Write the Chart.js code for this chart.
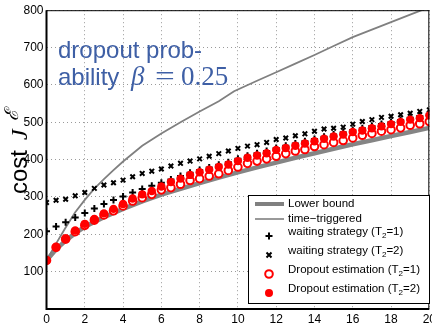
<!DOCTYPE html>
<html>
<head>
<meta charset="utf-8">
<script src="https://cdn.jsdelivr.net/npm/chart.js@4.4.0/dist/chart.umd.min.js"></script>
<style>
  html, body { margin: 0; padding: 0; background: #fff; overflow: hidden; }
  #wrap { width: 432px; height: 329px; overflow: hidden; }
</style>
</head>
<body>
<div id="wrap"><canvas id="chart" width="439" height="329"></canvas></div>
<script>
// data
const steps = [0,0.5,1,1.5,2,2.5,3,3.5,4,4.5,5,5.5,6,6.5,7,7.5,8,8.5,9,9.5,10,
  10.5,11,11.5,12,12.5,13,13.5,14,14.5,15,15.5,16,16.5,17,17.5,18,18.5,19,19.5,20];

const lowerX = [0,0.5,1,1.5,2,3,4,5,6,7,8,9,10,11,12,13,14,15,16,17,18,19,20];
const lowerBound = [130,160,183,203,220,246,268,288,306,322,337,352,366,379,392,405,417,429,441,452,463,474,485];

const timeX = [0,0.5,1,1.5,2,2.5,3,3.5,4,5,6,7,8,9,9.8,11,12,13,14,15,16,17,18,19,20];
const timeTriggered = [130,175,218,259,292,322,348,372,395,437,470,500,529,556,583,611,634,657,680,704,728,748,768,788,808];

const waitT1 = [208,221,232,245,257,269,281,292,301,312,321,330,338,347,356,365,372,379,386,393,402,
  410,417,423,431,437,443,449,455,461,467,473,479,484,490,495,501,506,512,517,523];
const waitT2 = [285,291,294,303,312,323,332,338,345,354,363,369,375,383,390,396,402,409,416,423,430,
  436,440,446,454,458,464,469,476,482,484,487,495,502,507,513,516,520,524,529,533];
const dropT1 = [130,165,187,207,224,238,252,263,276,289,298,307,319,325,334,344,349,356,362,371,380,
  390,396,402,409,416,423,427,435,440,446,451,458,465,470,476,480,485,492,496,502];
const dropT2 = [130,166,189,210,228,241,256,268,281,296,307,316,328,340,349,359,366,373,380,387,396,
  405,411,417,426,431,437,443,449,456,462,467,474,478,484,489,495,501,507,511,518];

const xTicks = [0,2,4,6,8,10,12,14,16,18,20];
const yTicks = [100,200,300,400,500,600,700,800];

const pts = (xv, yv) => xv.map((x, i) => ({ x: x, y: yv[i] }));

const SANS = "'Liberation Sans', Arial, sans-serif";
const SERIF = "'Liberation Serif', 'Times New Roman', serif";
const BLUE = '#3e5fa5';

// box, annotation, y title and legend
const decor = {
  id: 'decor',
  afterDatasetsDraw(chart) {
    const { ctx, chartArea: a } = chart;
    ctx.save();
    ctx.strokeStyle = '#000';
    ctx.lineWidth = 1;
    ctx.beginPath();
    ctx.moveTo(a.left, a.top + 0.5); ctx.lineTo(a.right, a.top + 0.5);
    ctx.moveTo(a.right - 0.5, a.top); ctx.lineTo(a.right - 0.5, a.bottom);
    ctx.stroke();
    ctx.lineWidth = 2;
    ctx.beginPath();
    ctx.moveTo(a.left, a.top); ctx.lineTo(a.left, a.bottom);
    ctx.lineTo(a.right, a.bottom);
    ctx.stroke();

    // annotation
    ctx.fillStyle = BLUE;
    ctx.textBaseline = 'alphabetic';
    ctx.textAlign = 'left';
    ctx.font = '24px ' + SANS;
    ctx.fillText('dropout prob-', 58, 58);
    ctx.fillText('ability', 58, 85);
    ctx.font = 'italic 27px ' + SERIF;
    ctx.fillText('\u03B2', 131, 85);
    ctx.font = '27px ' + SERIF;
    ctx.save();
    ctx.translate(155, 0);
    ctx.scale(1.3, 1);
    ctx.fillText('=', 0, 85);
    ctx.restore();
    ctx.fillText('0.25', 181, 85);

    // y title
    ctx.fillStyle = '#000';
    ctx.save();
    ctx.translate(27, 194);
    ctx.rotate(-Math.PI / 2);
    ctx.font = '24px ' + SANS;
    ctx.fillText('cost', 0, 0);
    ctx.font = 'italic 24px ' + SERIF;
    ctx.fillText('J', 54, 0);
    ctx.font = 'italic 19px ' + SERIF;
    ctx.fillText('\u2130', 73, -9);
    ctx.restore();

    // legend
    const lx = 248, ly = 195, lw = 182, lh = 109;
    ctx.fillStyle = '#fff';
    ctx.fillRect(lx, ly, lw, lh);
    ctx.strokeStyle = '#000';
    ctx.lineWidth = 1;
    ctx.strokeRect(lx + 0.5, ly + 0.5, lw - 1, lh - 1);

    ctx.strokeStyle = '#808080';
    ctx.lineWidth = 4;
    ctx.beginPath(); ctx.moveTo(255, 204); ctx.lineTo(284, 204); ctx.stroke();
    ctx.lineWidth = 1.6;
    ctx.beginPath(); ctx.moveTo(255, 219); ctx.lineTo(284, 219); ctx.stroke();

    const mx = 269;
    ctx.strokeStyle = '#000';
    ctx.lineWidth = 2;
    ctx.beginPath();
    ctx.moveTo(mx - 3.5, 236); ctx.lineTo(mx + 3.5, 236);
    ctx.moveTo(mx, 232.5); ctx.lineTo(mx, 239.5);
    ctx.stroke();
    ctx.beginPath();
    ctx.moveTo(mx - 2.5, 252.5); ctx.lineTo(mx + 2.5, 257.5);
    ctx.moveTo(mx + 2.5, 252.5); ctx.lineTo(mx - 2.5, 257.5);
    ctx.stroke();
    ctx.strokeStyle = '#ff0000';
    ctx.fillStyle = '#fff';
    ctx.beginPath(); ctx.arc(mx, 274, 3.8, 0, Math.PI * 2); ctx.fill(); ctx.stroke();
    ctx.fillStyle = '#ff0000';
    ctx.beginPath(); ctx.arc(mx, 293, 4, 0, Math.PI * 2); ctx.fill();

    ctx.fillStyle = '#000';
    ctx.textBaseline = 'middle';
    const tx = 288;
    const small = (pre, sub, post, y) => {
      ctx.font = '11.5px ' + SANS;
      ctx.fillText(pre, tx, y);
      let w = ctx.measureText(pre).width;
      ctx.font = '8px ' + SANS;
      ctx.fillText(sub, tx + w, y + 4);
      w += ctx.measureText(sub).width;
      ctx.font = '11.5px ' + SANS;
      ctx.fillText(post, tx + w, y);
    };
    ctx.font = '11.5px ' + SANS;
    ctx.fillText('Lower bound', tx, 204);
    ctx.fillText('time\u2212triggered', tx, 219);
    small('waiting strategy (T', '2', '=1)', 232);
    small('waiting strategy (T', '2', '=2)', 251);
    small('Dropout estimation (T', '2', '=1)', 270);
    small('Dropout estimation (T', '2', '=2)', 288.5);
    ctx.restore();
  }
};

new Chart(document.getElementById('chart'), {
  type: 'scatter',
  data: {
    datasets: [
      { label: 'Lower bound', data: pts(lowerX, lowerBound), showLine: true,
        borderColor: '#858585', borderWidth: 4.5, pointRadius: 0, order: 6 },
      { label: 'time-triggered', data: pts(timeX, timeTriggered), showLine: true,
        borderColor: '#808080', borderWidth: 1.8, pointRadius: 0, order: 5 },
      { label: 'waiting strategy (T2=1)', data: pts(steps, waitT1), pointStyle: 'cross',
        pointRadius: 3.5, borderColor: '#000', borderWidth: 2, order: 4 },
      { label: 'waiting strategy (T2=2)', data: pts(steps, waitT2), pointStyle: 'crossRot',
        pointRadius: 3.2, borderColor: '#000', borderWidth: 2, order: 3 },
      { label: 'Dropout estimation (T2=1)', data: pts(steps, dropT1), pointStyle: 'circle',
        pointRadius: 3.8, borderColor: '#ff0000', backgroundColor: '#fff', borderWidth: 2, order: 2 },
      { label: 'Dropout estimation (T2=2)', data: pts(steps, dropT2), pointStyle: 'circle',
        pointRadius: 4.2, borderColor: '#ff0000', backgroundColor: '#ff0000', borderWidth: 0, order: 1 }
    ]
  },
  options: {
    responsive: false,
    animation: false,
    events: [],
    layout: { padding: { left: 0, right: 2, top: 8, bottom: 0 } },
    plugins: { legend: { display: false }, tooltip: { enabled: false } },
    scales: {
      x: {
        type: 'linear', min: 0, max: 20,
        afterFit: s => { s.height = 20; },
        afterBuildTicks: s => { s.ticks = xTicks.map(v => ({ value: v })); },
        ticks: { color: '#000', font: { size: 12, family: SANS }, padding: 3, maxRotation: 0 },
        grid: { color: '#9a9a9a', drawTicks: false, lineWidth: 1 },
        border: { display: false, dash: [1, 3] }
      },
      y: {
        type: 'linear', min: 0, max: 800,
        afterFit: s => { s.width = 46.5; },
        afterBuildTicks: s => { s.ticks = yTicks.map(v => ({ value: v })); },
        ticks: { color: '#000', font: { size: 12, family: SANS }, padding: 3 },
        grid: { color: '#9a9a9a', drawTicks: false, lineWidth: 1 },
        border: { display: false, dash: [1, 3] }
      }
    }
  },
  plugins: [decor]
});
</script>
</body>
</html>
